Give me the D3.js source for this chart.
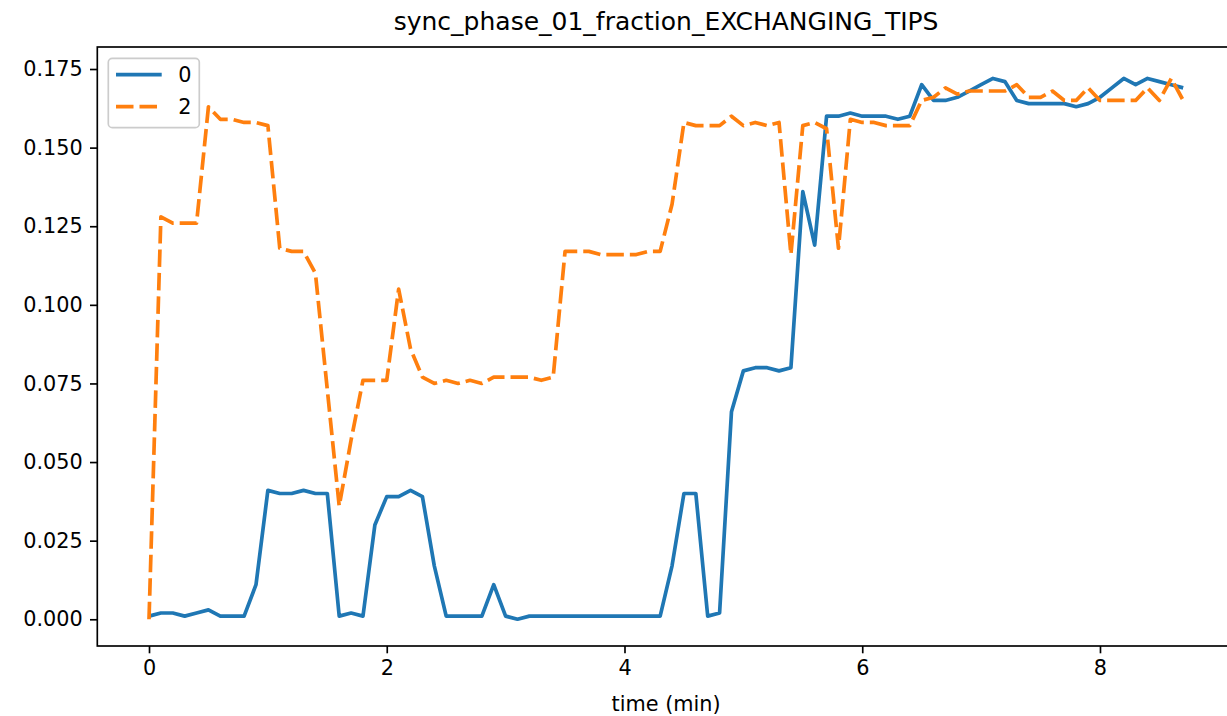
<!DOCTYPE html>
<html>
<head>
<meta charset="utf-8">
<title>sync_phase_01_fraction_EXCHANGING_TIPS</title>
<script src="https://cdn.jsdelivr.net/npm/d3@7"></script>
<style>
    body { margin: 0; background: #ffffff; }
    #chart svg { display: block; font-family: "DejaVu Sans", sans-serif; }
</style>
</head>
<body>
<div id="chart"></div>
<script>
// time in minutes (one sample every 0.1 min)
var times = [0.0, 0.1, 0.2, 0.3, 0.4, 0.5, 0.6, 0.7, 0.8, 0.9,
    1.0, 1.1, 1.2, 1.3, 1.4, 1.5, 1.6, 1.7, 1.8, 1.9,
    2.0, 2.1, 2.2, 2.3, 2.4, 2.5, 2.6, 2.7, 2.8, 2.9,
    3.0, 3.1, 3.2, 3.3, 3.4, 3.5, 3.6, 3.7, 3.8, 3.9,
    4.0, 4.1, 4.2, 4.3, 4.4, 4.5, 4.6, 4.7, 4.8, 4.9,
    5.0, 5.1, 5.2, 5.3, 5.4, 5.5, 5.6, 5.7, 5.8, 5.9,
    6.0, 6.1, 6.2, 6.3, 6.4, 6.5, 6.6, 6.7, 6.8, 6.9,
    7.0, 7.1, 7.2, 7.3, 7.4, 7.5, 7.6, 7.7, 7.8, 7.9,
    8.0, 8.1, 8.2, 8.3, 8.4, 8.5, 8.6, 8.7];

// series "0"
var series0 = [0.001, 0.002, 0.002, 0.001, 0.002, 0.003, 0.001, 0.001, 0.001, 0.011,
    0.041, 0.040, 0.040, 0.041, 0.040, 0.040, 0.001, 0.002, 0.001, 0.030,
    0.039, 0.039, 0.041, 0.039, 0.017, 0.001, 0.001, 0.001, 0.001, 0.011,
    0.001, 0.000, 0.001, 0.001, 0.001, 0.001, 0.001, 0.001, 0.001, 0.001,
    0.001, 0.001, 0.001, 0.001, 0.017, 0.040, 0.040, 0.001, 0.002, 0.066,
    0.079, 0.080, 0.080, 0.079, 0.080, 0.136, 0.119, 0.160, 0.160, 0.161,
    0.160, 0.160, 0.160, 0.159, 0.160, 0.170, 0.165, 0.165, 0.166, 0.168,
    0.170, 0.172, 0.171, 0.165, 0.164, 0.164, 0.164, 0.164, 0.163, 0.164,
    0.166, 0.169, 0.172, 0.170, 0.172, 0.171, 0.170, 0.169];

// series "2"
var series2 = [0.000, 0.128, 0.126, 0.126, 0.126, 0.163, 0.159, 0.159, 0.158, 0.158,
    0.157, 0.118, 0.117, 0.117, 0.110, 0.073, 0.036, 0.057, 0.076, 0.076,
    0.076, 0.105, 0.086, 0.077, 0.075, 0.076, 0.075, 0.076, 0.075, 0.077,
    0.077, 0.077, 0.077, 0.076, 0.077, 0.117, 0.117, 0.117, 0.116, 0.116,
    0.116, 0.116, 0.117, 0.117, 0.132, 0.158, 0.157, 0.157, 0.157, 0.160,
    0.157, 0.158, 0.157, 0.158, 0.116, 0.157, 0.158, 0.156, 0.118, 0.159,
    0.158, 0.158, 0.157, 0.157, 0.157, 0.165, 0.166, 0.169, 0.167, 0.168,
    0.168, 0.168, 0.168, 0.170, 0.166, 0.166, 0.168, 0.165, 0.165, 0.169,
    0.165, 0.165, 0.165, 0.165, 0.169, 0.165, 0.172, 0.165];

var seriesNames = ["0", "2"];
var xTicks = [0, 2, 4, 6, 8];
var yTicks = [0.000, 0.025, 0.050, 0.075, 0.100, 0.125, 0.150, 0.175];

function init() {

    var w = 1227;
    var h = 716;

    // plot area (right edge runs past the picture, like the original)
    var left = 97.3;
    var right = 1234.9;
    var top = 47;
    var bottom = 646;

    var colors = ["#1f77b4", "#ff7f0e"];
    var dashes = [null, "17.5,6"];
    var lineWidth = 3.7;
    var tickFont = "20.8px";

    var xScale = d3.scaleLinear()
        .domain([-0.435, 9.135])
        .range([left, right]);

    var yScale = d3.scaleLinear()
        .domain([-0.0085, 0.182])
        .range([bottom, top]);

    var svg = d3.select("#chart")
        .append("svg")
        .attr("width", w)
        .attr("height", h);

    svg.append("rect")
        .attr("width", w)
        .attr("height", h)
        .attr("fill", "#ffffff");

    svg.append("clipPath")
        .attr("id", "plotclip")
        .append("rect")
        .attr("x", left)
        .attr("y", top)
        .attr("width", right - left)
        .attr("height", bottom - top);

    // lines
    var seriesList = [series0, series2];

    var line = d3.line()
        .x(function (d) { return xScale(d.t); })
        .y(function (d) { return yScale(d.v); });

    seriesList.forEach(function (vals, k) {
        var pts = times.map(function (t, i) {
            return { t: t, v: vals[i] };
        });
        svg.append("path")
            .datum(pts)
            .attr("clip-path", "url(#plotclip)")
            .attr("fill", "none")
            .attr("stroke", colors[k])
            .attr("stroke-width", lineWidth)
            .attr("stroke-linejoin", "round")
            .attr("stroke-dasharray", dashes[k])
            .attr("d", line);
    });

    // axes
    var xAxis = d3.axisBottom(xScale)
        .tickValues(xTicks)
        .tickFormat(d3.format("d"))
        .tickSize(7.3)
        .tickPadding(7.3);

    var yAxis = d3.axisLeft(yScale)
        .tickValues(yTicks)
        .tickFormat(d3.format(".3f"))
        .tickSize(7.3)
        .tickPadding(7.3);

    var gx = svg.append("g")
        .attr("transform", "translate(0," + bottom + ")")
        .call(xAxis);

    var gy = svg.append("g")
        .attr("transform", "translate(" + left + ",0)")
        .call(yAxis);

    [gx, gy].forEach(function (g) {
        g.select(".domain").remove();
        g.selectAll(".tick line")
            .attr("stroke", "#000")
            .attr("stroke-width", 1.67);
        g.selectAll(".tick text")
            .attr("fill", "#000")
            .style("font-family", "DejaVu Sans")
            .style("font-size", tickFont);
    });

    // frame
    svg.append("rect")
        .attr("x", left)
        .attr("y", top)
        .attr("width", right - left)
        .attr("height", bottom - top)
        .attr("fill", "none")
        .attr("stroke", "#000")
        .attr("stroke-width", 1.67);

    // title and x label
    svg.append("text")
        .attr("x", (left + right) / 2)
        .attr("y", 30)
        .attr("text-anchor", "middle")
        .style("font-size", "25px")
        .text("sync_phase_01_fraction_EXCHANGING_TIPS");

    svg.append("text")
        .attr("x", (left + right) / 2)
        .attr("y", 711)
        .attr("text-anchor", "middle")
        .style("font-size", tickFont)
        .text("time (min)");

    // legend
    var legend = svg.append("g")
        .attr("transform", "translate(108.3,58.3)");

    legend.append("rect")
        .attr("width", 91)
        .attr("height", 69.4)
        .attr("rx", 4)
        .attr("ry", 4)
        .attr("fill", "#ffffff")
        .attr("fill-opacity", 0.8)
        .attr("stroke", "#cccccc")
        .attr("stroke-width", 1.67);

    seriesNames.forEach(function (name, k) {
        var yy = 16.4 + k * 32;
        legend.append("line")
            .attr("x1", 7.7)
            .attr("x2", 53.4)
            .attr("y1", yy)
            .attr("y2", yy)
            .attr("stroke", colors[k])
            .attr("stroke-width", lineWidth)
            .attr("stroke-dasharray", dashes[k]);
        legend.append("text")
            .attr("x", 70)
            .attr("y", yy)
            .attr("dy", "0.36em")
            .style("font-size", tickFont)
            .text(name);
    });

}

window.onload = init;
</script>
</body>
</html>
